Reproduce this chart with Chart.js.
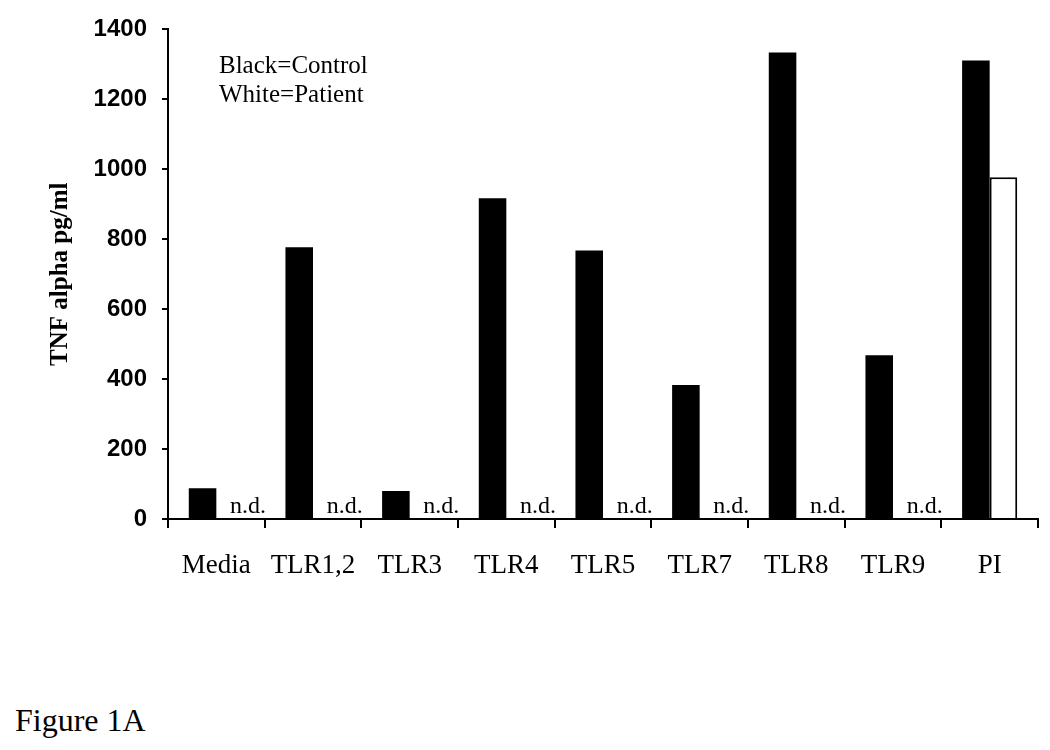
<!DOCTYPE html>
<html>
<head>
  <meta charset="UTF-8">
  <title>Figure 1A</title>
  <script src="https://cdn.jsdelivr.net/npm/chart.js@4.4.4/dist/chart.umd.min.js"></script>
  <style>
    body { margin: 0; background: #fff; width: 1050px; height: 750px; position: relative; overflow: hidden; }
    #wrap { position: absolute; left: 0; top: 0; width: 1050px; height: 620px; }
    #fig { position: absolute; left: 15px; top: 702px; font-family: "Liberation Serif", serif; font-size: 32px; color: #000; }
  </style>
</head>
<body>
<div id="wrap"><canvas id="chart"></canvas></div>
<div id="fig">Figure 1A</div>

<script>
  // values (TNF alpha, pg/ml); null = not detected
  const categories = ['Media', 'TLR1,2', 'TLR3', 'TLR4', 'TLR5', 'TLR7', 'TLR8', 'TLR9', 'PI'];
  const control = [88, 777, 80, 917, 768, 383, 1334, 468, 1311];
  const patient = [null, null, null, null, null, null, null, null, 977];
  const yTicks = [0, 200, 400, 600, 800, 1000, 1200, 1400];

  // "n.d." under the missing patient bars + the little key text
  const annotate = {
    id: 'annotate',
    afterDatasetsDraw(chart) {
      const ctx = chart.ctx;
      const meta = chart.getDatasetMeta(0);
      const y0 = chart.scales.y.getPixelForValue(0);
      ctx.save();
      ctx.fillStyle = '#000';
      ctx.font = '24px "Liberation Serif"';
      ctx.textAlign = 'center';
      ctx.textBaseline = 'alphabetic';
      patient.forEach((v, i) => {
        if (v === null) {
          const bar = meta.data[i];
          ctx.fillText('n.d.', bar.x + bar.width * 1.65, y0 - 6);
        }
      });
      ctx.font = '25px "Liberation Serif"';
      ctx.textAlign = 'left';
      ctx.fillText('Black=Control', 219, 73);
      ctx.fillText('White=Patient', 219, 102);
      ctx.restore();
    }
  };

  new Chart(document.getElementById('chart'), {
    type: 'bar',
    data: {
      labels: categories,
      datasets: [
        { label: 'Control', data: control, backgroundColor: '#000', borderWidth: 0 },
        { label: 'Patient', data: patient, backgroundColor: '#fff', borderColor: '#000', borderWidth: 2 }
      ]
    },
    options: {
      responsive: true,
      maintainAspectRatio: false,
      animation: false,
      layout: { padding: { left: 30, top: 28, right: 12, bottom: 0 } },
      datasets: { bar: { categoryPercentage: 0.57, barPercentage: 1.0 } },
      plugins: { legend: { display: false }, tooltip: { enabled: false } },
      scales: {
        x: {
          grid: { display: true, offset: true, drawOnChartArea: false, color: '#000', lineWidth: 2, tickLength: 9 },
          border: { color: '#000', width: 2 },
          ticks: { color: '#000', padding: 22, font: { family: 'Liberation Serif', size: 27 }, maxRotation: 0, autoSkip: false },
          afterFit(s) { s.height = 101; }
        },
        y: {
          min: 0,
          max: 1400,
          afterBuildTicks(s) { s.ticks = yTicks.map(v => ({ value: v })); },
          grid: { display: true, drawOnChartArea: false, color: '#000', lineWidth: 2, tickLength: 6 },
          border: { color: '#000', width: 2 },
          ticks: { color: '#000', padding: 15, callback: v => String(v),
                   font: { family: 'Liberation Sans', size: 24, weight: 'bold' } },
          title: { display: true, text: 'TNF alpha pg/ml', color: '#000', padding: { top: 16, bottom: 0 },
                   font: { family: 'Liberation Serif', size: 25, weight: 'bold' } },
          afterFit(s) { s.width = 138; }
        }
      }
    },
    plugins: [annotate]
  });
</script>
</body>
</html>
